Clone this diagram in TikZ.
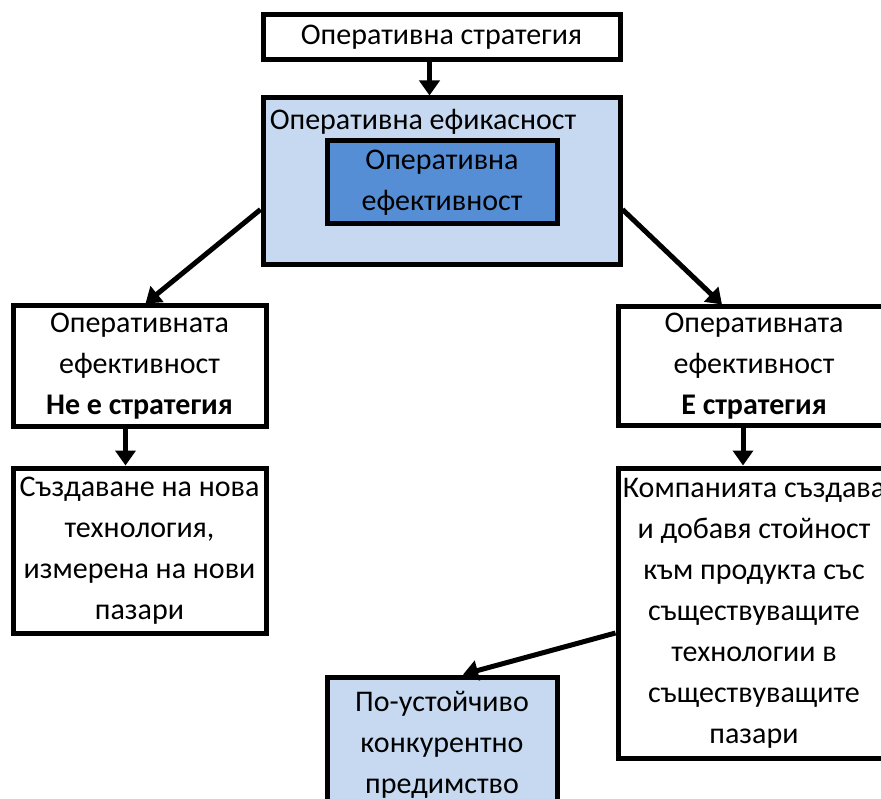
\documentclass[tikz,border=0pt]{standalone}
\usepackage{fontspec}
\setmainfont{Carlito}
\usetikzlibrary{arrows.meta}
\definecolor{paleblue}{HTML}{C6D9F1}
\definecolor{midblue}{HTML}{558ED5}
\tikzset{
  txt/.style={font=\fontsize{30}{41}\selectfont},
  box/.style={txt, draw=black, line width=5pt, fill=white, align=center, inner sep=0pt},
  arr/.style={line width=5pt, -{Triangle[width=20pt,length=15pt]}},
}
\begin{document}
\begin{tikzpicture}[x=1pt,y=1pt]
\useasboundingbox (0,0) rectangle (881,-799);

% top level
\node[box, minimum width=357pt, minimum height=45pt] (top) at (441.5,-37.5)
  {Оперативна стратегия};

% efficacy frame with the efficiency box inside
\node[box, fill=paleblue, minimum width=357pt, minimum height=167pt] (outer) at (441.5,-181.5) {};
\node[txt, inner sep=0pt] (outerlbl) at (423,-122)
  {Оперативна ефикасност};
\node[box, fill=midblue, minimum width=230pt, minimum height=83pt] (inner) at (442,-182.5)
  {Оперативна\\ефективност};

% second row
\node[box, minimum width=253pt, minimum height=121pt] (lm) at (139.5,-366.5)
  {Оперативната\\ефективност\\\textbf{Не е стратегия}};
\node[box, minimum width=272pt, minimum height=119pt] (rm) at (754,-366.5)
  {Оперативната\\ефективност\\\textbf{Е стратегия}};

% third row
\node[box, minimum width=253pt, minimum height=165pt] (lb) at (139.5,-550.5)
  {Създаване на нова\\технология,\\измерена на нови\\пазари};
\node[box, minimum width=272pt, minimum height=290pt] (rb) at (754,-613)
  {Компанията създава\\и добавя стойност\\към продукта със\\съществуващите\\технологии в\\съществуващите\\пазари};

% result
\node[box, fill=paleblue, minimum width=230pt, minimum height=136pt] (bt) at (442,-745)
  {По-устойчиво\\конкурентно\\предимство};

% connectors
\draw[arr] ([xshift=-12pt]top.south) -- ([xshift=-12pt]outer.north);
\draw[arr] ([yshift=-28pt]outer.west) -- ([xshift=6pt]lm.north);
\draw[arr] ([yshift=-28pt]outer.east) -- ([xshift=-32pt]rm.north);
\draw[arr] ([xshift=-14pt]lm.south) -- ([xshift=-14pt]lb.north);
\draw[arr] ([xshift=-11pt]rm.south) -- ([xshift=-11pt]rb.north);
\draw[arr] ([yshift=-20pt]rb.west) -- ([xshift=21pt]bt.north);
\end{tikzpicture}
\end{document}
